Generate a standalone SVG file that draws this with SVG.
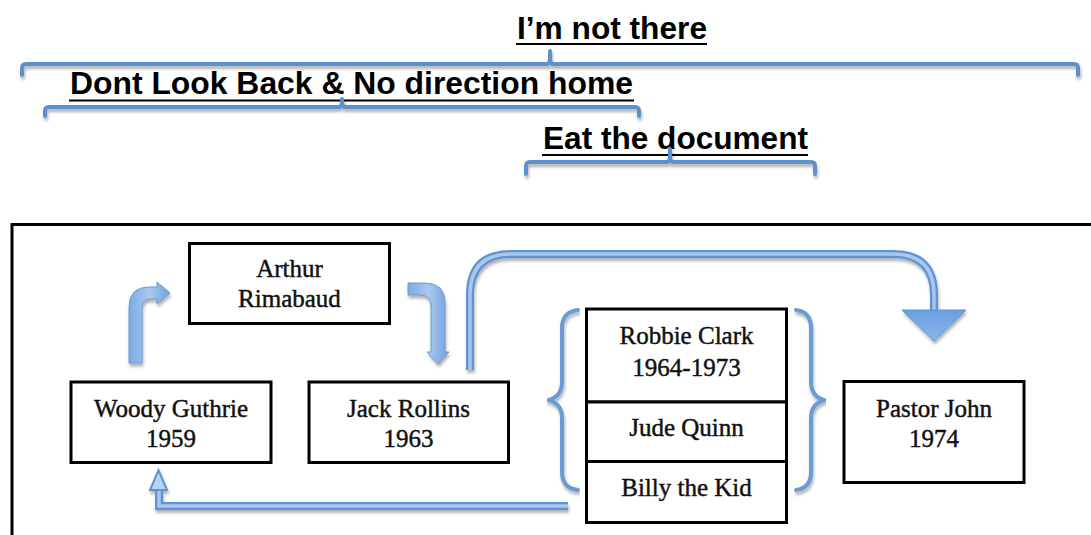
<svg xmlns="http://www.w3.org/2000/svg" width="1091" height="535" viewBox="0 0 1091 535">
  <defs>
    <style>
      .title { font-family: "Liberation Sans", Arial, sans-serif; font-weight: bold; font-size: 31.5px; fill: #000; }
      .uline { stroke: #000; stroke-width: 1.8; }
      .brk { fill: none; stroke: #5b92cc; stroke-width: 4; stroke-linecap: round; stroke-linejoin: round; }
      .box { fill: #fff; stroke: #000; stroke-width: 3; }
      .lbl { font-family: "Liberation Serif", "Times New Roman", serif; font-size: 25px; fill: #111; stroke: #111; stroke-width: 0.45; text-anchor: middle; }
      .brace { fill: none; stroke: #6a9bd4; stroke-width: 4; stroke-linecap: round; }
      .blk { fill: url(#blkGrad); stroke: #6b9ad6; stroke-width: 1; }
      .conOut { fill: none; stroke: #5f93d3; stroke-width: 8; }
      .conIn { fill: none; stroke: #a9c7ee; stroke-width: 3.5; }
    </style>
    <filter id="shadow" x="-5%" y="-20%" width="110%" height="160%">
      <feDropShadow dx="1" dy="3" stdDeviation="1.5" flood-color="#000" flood-opacity="0.3"/>
    </filter>
    <linearGradient id="blkGrad" x1="0" y1="0" x2="1" y2="0">
      <stop offset="0" stop-color="#7eaae3"/>
      <stop offset="0.5" stop-color="#a9c8ef"/>
      <stop offset="1" stop-color="#6f9fdc"/>
    </linearGradient>
    <linearGradient id="headGrad" x1="0" y1="0" x2="0" y2="1">
      <stop offset="0" stop-color="#6b9fe0"/>
      <stop offset="1" stop-color="#8ab6ea"/>
    </linearGradient>
  </defs>

  <!-- Top titles and brackets -->
  <g id="title-im-not-there">
    <text class="title" x="517" y="38.5" textLength="190" lengthAdjust="spacingAndGlyphs">I’m not there</text>
    <line class="uline" x1="516" y1="44" x2="707" y2="44"/>
    <path class="brk" filter="url(#shadow)" d="M22,75 V68 Q22,64 26,64 H546 Q550,64 550,60 V51 M550,60 Q550,64 554,64 H1074 Q1078,64 1078,68 V75"/>
  </g>
  <g id="title-dont-look-back">
    <text class="title" x="70" y="93.5" textLength="563" lengthAdjust="spacingAndGlyphs">Dont Look Back &amp; No direction home</text>
    <line class="uline" x1="69" y1="100.5" x2="634" y2="100.5"/>
    <path class="brk" filter="url(#shadow)" d="M45,116 V111 Q45,107 49,107 H338 Q342,107 342,103 V99 M342,103 Q342,107 346,107 H635 Q639,107 639,111 V116"/>
  </g>
  <g id="title-eat-the-document">
    <text class="title" x="543" y="148.5" textLength="265" lengthAdjust="spacingAndGlyphs">Eat the document</text>
    <line class="uline" x1="542" y1="155" x2="808" y2="155"/>
    <path class="brk" filter="url(#shadow)" d="M526,174 V166 Q526,162 530,162 H666 Q670,162 670,158 V149 M670,158 Q670,162 674,162 H811 Q815,162 815,166 V174"/>
  </g>

  <!-- Frame -->
  <g id="frame">
    <rect x="12" y="224.5" width="1100" height="400" fill="none" stroke="#000" stroke-width="3"/>
  </g>

  <!-- Connectors -->
  <g id="connectors">
    <!-- Woody -> Arthur (bent-up block arrow) -->
    <path class="blk" filter="url(#shadow)" d="M129,363 V307 Q129,287 149,287 H157 V282 L170,293 L157,304 V299 H151 Q142,299 142,308 V363 Z"/>
    <!-- Arthur -> Jack (bent-down block arrow) -->
    <path class="blk" filter="url(#shadow)" d="M408,283 H425 Q445,283 445,303 V352 H449 L438,364 L427,352 H431 V306 Q431,295 420,295 H408 Z"/>
    <!-- Jack -> Pastor John (large curved arrow) -->
    <g filter="url(#shadow)">
      <path class="conOut" d="M470,370 V295 Q470,254 511,254 H893 Q934,254 934,295 V311"/>
      <path class="conIn" d="M470,370 V295 Q470,254 511,254 H893 Q934,254 934,295 V311"/>
      <polygon points="902,310 966,310 934,341" fill="url(#headGrad)" stroke="#5f93d3" stroke-width="1"/>
    </g>
    <!-- Stack -> Woody (return arrow) -->
    <g filter="url(#shadow)">
      <path class="conOut" d="M568,506 H159 V489"/>
      <path class="conIn" d="M568,506 H159 V489"/>
      <polygon points="150,490 167,490 158.5,470" fill="#b9d3f2" stroke="#5f93d3" stroke-width="2"/>
    </g>
    <!-- Braces around stack -->
    <path class="brace" filter="url(#shadow)" d="M578,310 Q562,312 562,328 V382 Q562,396 549,400 Q562,404 562,418 V472 Q562,488 578,490"/>
    <path class="brace" filter="url(#shadow)" d="M796,310 Q811,312 811,328 V382 Q811,396 824,400 Q811,404 811,418 V472 Q811,488 796,490"/>
  </g>

  <!-- Nodes -->
  <g id="node-arthur">
    <rect class="box" x="189.5" y="243.5" width="200" height="80"/>
    <text class="lbl" x="289.5" y="277">Arthur</text>
    <text class="lbl" x="289.5" y="307">Rimabaud</text>
  </g>
  <g id="node-woody">
    <rect class="box" x="71" y="382" width="200" height="80.5"/>
    <text class="lbl" x="171" y="417">Woody Guthrie</text>
    <text class="lbl" x="171" y="447">1959</text>
  </g>
  <g id="node-jack">
    <rect class="box" x="309" y="382" width="199.5" height="80.5"/>
    <text class="lbl" x="408.5" y="417">Jack Rollins</text>
    <text class="lbl" x="408.5" y="447">1963</text>
  </g>
  <g id="node-robbie">
    <rect class="box" x="586.5" y="309" width="200" height="93"/>
    <text class="lbl" x="686.5" y="344">Robbie Clark</text>
    <text class="lbl" x="686.5" y="376">1964-1973</text>
  </g>
  <g id="node-jude">
    <rect class="box" x="586.5" y="402" width="200" height="59.5"/>
    <text class="lbl" x="686.5" y="436">Jude Quinn</text>
  </g>
  <g id="node-billy">
    <rect class="box" x="586.5" y="461.5" width="200" height="61"/>
    <text class="lbl" x="686.5" y="496">Billy the Kid</text>
  </g>
  <g id="node-pastor">
    <rect class="box" x="844" y="381.5" width="180" height="101"/>
    <text class="lbl" x="934" y="417">Pastor John</text>
    <text class="lbl" x="934" y="447">1974</text>
  </g>
</svg>
